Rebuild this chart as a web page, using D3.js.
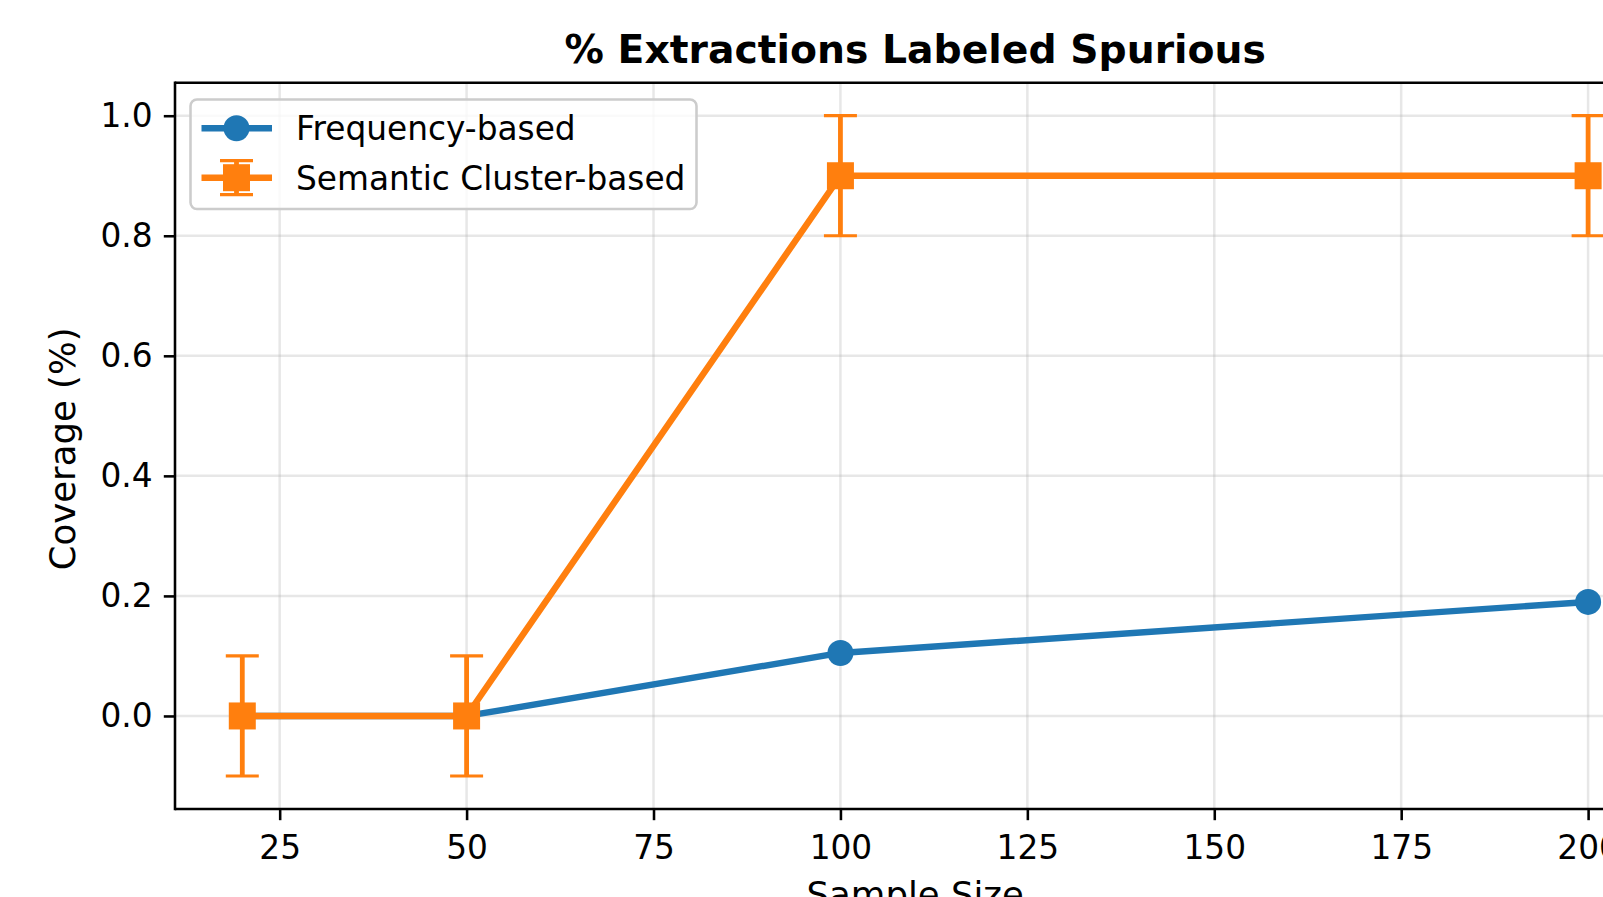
<!DOCTYPE html>
<html>
<head>
<meta charset="utf-8">
<script src="https://cdn.jsdelivr.net/npm/d3@7"></script>
<style>
  html, body { margin: 0; padding: 0; background: #ffffff; overflow: hidden; }
  svg { display: block; font-family: "DejaVu Sans", sans-serif; }
</style>
</head>
<body>
<svg id="chart" width="1603" height="897"></svg>
<script>
// ---- data ----
const sampleSizes = [20, 50, 100, 200];
const freqValues = [0.0, 0.0, 0.105, 0.19];
const semValues = [0.0, 0.0, 0.9, 0.9];
const semErrors = [0.1, 0.1, 0.1, 0.1];
const xTickValues = [25, 50, 75, 100, 125, 150, 175, 200];
const yTickValues = [0.0, 0.2, 0.4, 0.6, 0.8, 1.0];
const seriesNames = ["Frequency-based", "Semantic Cluster-based"];
const titleText = "% Extractions Labeled Spurious";
const xLabelText = "Sample Size";
const yLabelText = "Coverage (%)";

// ---- layout ----
const W = 1603, H = 897;
const axL = 175, axR = 1655.4, axT = 82.7, axB = 809;
const blue = "#1f77b4", orange = "#ff7f0e";
const fs = 32.8;
const labelFs = 35.5;

const svg = d3.select("#chart");
const x = d3.scaleLinear().domain([11, 209]).range([axL, axR]);
const y = d3.scaleLinear().domain([-0.155, 1.055]).range([axB, axT]);

svg.append("rect").attr("width", W).attr("height", H).attr("fill", "#fff");

// grid
const grid = svg.append("g");
grid.selectAll("line.gx").data(xTickValues).join("line")
  .attr("x1", d => x(d)).attr("x2", d => x(d)).attr("y1", axT).attr("y2", axB)
  .attr("stroke", "#b0b0b0").attr("stroke-opacity", 0.3).attr("stroke-width", 2.5);
grid.selectAll("line.gy").data(yTickValues).join("line")
  .attr("x1", axL).attr("x2", axR).attr("y1", d => y(d)).attr("y2", d => y(d))
  .attr("stroke", "#b0b0b0").attr("stroke-opacity", 0.3).attr("stroke-width", 2.5);

// axes
const xAxis = d3.axisBottom(x).tickValues(xTickValues).tickSize(11.2).tickPadding(16).tickFormat(d3.format("d"));
const yAxis = d3.axisLeft(y).tickValues(yTickValues).tickSize(11.2).tickPadding(11.2).tickFormat(d3.format(".1f"));
const gx = svg.append("g").attr("transform", `translate(0,${axB})`).call(xAxis);
const gy = svg.append("g").attr("transform", `translate(${axL},0)`).call(yAxis);
[gx, gy].forEach(g => {
  g.select(".domain").remove();
  g.selectAll(".tick line").attr("stroke", "#000").attr("stroke-width", 2.56);
  g.selectAll(".tick text").attr("fill", "#000").attr("font-size", fs)
    .attr("font-family", "DejaVu Sans, sans-serif");
});
gx.selectAll(".tick text").attr("dy", "0.71em");

// spines
const sp = svg.append("g").attr("stroke", "#000").attr("stroke-width", 2.56).attr("fill", "none");
sp.append("line").attr("x1", axL).attr("x2", axL).attr("y1", axT - 1.28).attr("y2", axB + 1.28);
sp.append("line").attr("x1", axL).attr("x2", axR + 1.28).attr("y1", axB).attr("y2", axB);
sp.append("line").attr("x1", axL).attr("x2", axR + 1.28).attr("y1", axT).attr("y2", axT);
sp.append("line").attr("x1", axR).attr("x2", axR).attr("y1", axT).attr("y2", axB);

// plotting area
const plot = svg.append("g");
const line = d3.line().x(d => x(d[0])).y(d => y(d[1]));

// frequency series
const freqData = sampleSizes.map((s, i) => [s, freqValues[i]]);
plot.append("path").datum(freqData).attr("d", line)
  .attr("fill", "none").attr("stroke", blue).attr("stroke-width", 6.4)
  .attr("stroke-linejoin", "round").attr("stroke-linecap", "square");
plot.selectAll("circle.f").data(freqData).join("circle")
  .attr("cx", d => x(d[0])).attr("cy", d => y(d[1])).attr("r", 13).attr("fill", blue);

// semantic series
const semData = sampleSizes.map((s, i) => [s, semValues[i], semErrors[i]]);
plot.append("path").datum(semData).attr("d", line)
  .attr("fill", "none").attr("stroke", orange).attr("stroke-width", 6.4)
  .attr("stroke-linejoin", "round").attr("stroke-linecap", "square");
const eb = plot.append("g").attr("stroke", orange);
eb.selectAll("line.v").data(semData).join("line")
  .attr("x1", d => x(d[0])).attr("x2", d => x(d[0]))
  .attr("y1", d => y(d[1] - d[2])).attr("y2", d => y(d[1] + d[2]))
  .attr("stroke-width", 4.8);
eb.selectAll("line.c1").data(semData).join("line")
  .attr("x1", d => x(d[0]) - 16.5).attr("x2", d => x(d[0]) + 16.5)
  .attr("y1", d => y(d[1] + d[2])).attr("y2", d => y(d[1] + d[2]))
  .attr("stroke-width", 3.2);
eb.selectAll("line.c2").data(semData).join("line")
  .attr("x1", d => x(d[0]) - 16.5).attr("x2", d => x(d[0]) + 16.5)
  .attr("y1", d => y(d[1] - d[2])).attr("y2", d => y(d[1] - d[2]))
  .attr("stroke-width", 3.2);
const sq = 27;
plot.selectAll("rect.s").data(semData).join("rect")
  .attr("x", d => x(d[0]) - sq / 2).attr("y", d => y(d[1]) - sq / 2)
  .attr("width", sq).attr("height", sq).attr("fill", orange);

// title & labels
svg.append("text").attr("x", (axL + axR) / 2).attr("y", 63)
  .attr("text-anchor", "middle").attr("font-size", 39.3).attr("font-weight", "bold")
  .attr("fill", "#000").text(titleText);
svg.append("text").attr("x", (axL + axR) / 2).attr("y", 907)
  .attr("text-anchor", "middle").attr("font-size", labelFs).attr("fill", "#000").text(xLabelText);
svg.append("text").attr("transform", `translate(75,${(axT + axB) / 2 + 3}) rotate(-90)`)
  .attr("text-anchor", "middle").attr("font-size", labelFs).attr("fill", "#000").text(yLabelText);

// legend
const lg = svg.append("g");
lg.append("rect").attr("x", 190.5).attr("y", 99.5).attr("width", 506).attr("height", 109.5)
  .attr("rx", 6.4).attr("fill", "#fff").attr("fill-opacity", 0.8)
  .attr("stroke", "#cccccc").attr("stroke-width", 2.56);
const hx1 = 201.5, hx2 = 272, hxc = 236.5;
const rowsY = [128.3, 177.7];
// row 1
lg.append("line").attr("x1", hx1).attr("x2", hx2).attr("y1", rowsY[0]).attr("y2", rowsY[0])
  .attr("stroke", blue).attr("stroke-width", 6.4);
lg.append("circle").attr("cx", hxc).attr("cy", rowsY[0]).attr("r", 13).attr("fill", blue);
// row 2
lg.append("line").attr("x1", hx1).attr("x2", hx2).attr("y1", rowsY[1]).attr("y2", rowsY[1])
  .attr("stroke", orange).attr("stroke-width", 6.4);
lg.append("line").attr("x1", hxc).attr("x2", hxc).attr("y1", rowsY[1] - 17).attr("y2", rowsY[1] + 17)
  .attr("stroke", orange).attr("stroke-width", 4.8);
[-17, 17].forEach(o => lg.append("line").attr("x1", hxc - 16.5).attr("x2", hxc + 16.5)
  .attr("y1", rowsY[1] + o).attr("y2", rowsY[1] + o).attr("stroke", orange).attr("stroke-width", 3.2));
lg.append("rect").attr("x", hxc - sq / 2).attr("y", rowsY[1] - sq / 2).attr("width", sq).attr("height", sq)
  .attr("fill", orange);
lg.selectAll("text").data(seriesNames).join("text")
  .attr("x", 296).attr("y", (d, i) => rowsY[i]).attr("dy", "0.36em")
  .attr("font-size", fs).attr("fill", "#000").text(d => d);
</script>
</body>
</html>
